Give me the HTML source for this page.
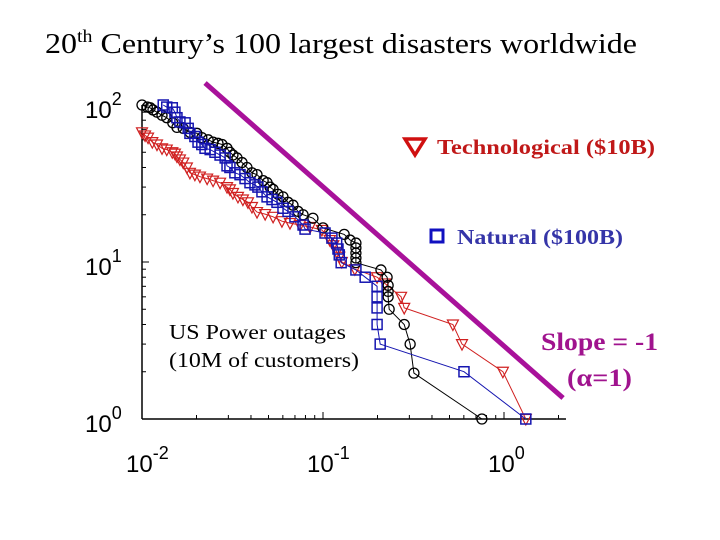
<!DOCTYPE html>
<html><head><meta charset="utf-8"><style>
html,body{margin:0;padding:0;background:#fff}
svg{display:block}
</style></head><body>
<svg id="chart" width="720" height="540" viewBox="0 0 720 540" xmlns="http://www.w3.org/2000/svg">
<text x="45" y="53" font-family="Liberation Serif, serif" font-size="29" fill="#000" textLength="592" lengthAdjust="spacingAndGlyphs">20<tspan font-size="18" dy="-11">th</tspan><tspan dy="11"> Century’s 100 largest disasters worldwide</tspan></text>
<g id="axes"></g>
<g id="marks"></g>
<g>
<polygon points="405,139 425,139 415,155" fill="none" stroke="#d01010" stroke-width="3.5"/>
<text x="437" y="154" font-family="Liberation Serif, serif" font-weight="bold" font-size="21" fill="#c01818" textLength="218" lengthAdjust="spacingAndGlyphs">Technological ($10B)</text>
</g>
<g>
<rect x="431" y="230" width="12" height="12" fill="none" stroke="#1010c0" stroke-width="3"/>
<text x="457" y="244" font-family="Liberation Serif, serif" font-weight="bold" font-size="21" fill="#3535a8" textLength="166" lengthAdjust="spacingAndGlyphs">Natural ($100B)</text>
</g>
<text font-family="Liberation Serif, serif" font-size="21" fill="#000"><tspan x="169" y="339" textLength="177" lengthAdjust="spacingAndGlyphs">US Power outages</tspan><tspan x="169" y="367" textLength="190" lengthAdjust="spacingAndGlyphs">(10M of customers)</tspan></text>
<text font-family="Liberation Serif, serif" font-weight="bold" font-size="25" fill="#a0138e"><tspan x="541" y="350" textLength="117" lengthAdjust="spacingAndGlyphs">Slope = -1</tspan><tspan x="567" y="386" textLength="65" lengthAdjust="spacingAndGlyphs">(α=1)</tspan></text>
</svg>
<script>
const blackX=[0.010,0.0107,0.0111,0.0115,0.0121,0.0129,0.0137,0.0148,0.0156,0.0169,0.0184,0.0201,0.0214,0.0232,0.0247,0.0263,0.0277,0.0295,0.0306,0.0318,0.0335,0.0357,0.0380,0.0405,0.0432,0.0467,0.0491,0.0510,0.0530,0.0564,0.0601,0.0641,0.0683,0.0728,0.0776,0.088,0.100,0.131,0.141,0.152,0.152,0.152,0.152,0.152,0.209,0.226,0.229,0.229,0.229,0.232,0.281,0.303,0.318,0.755];
const blackY=[100,97,96,93,90,86,83,77,72,71,67,66,62,60,58,57,56,53,50,48,46,43,40,37,36,33,32,30,29,27,26,24,23,21,20,19,16.5,15,13.8,13.2,12.3,11.4,10.6,9.9,8.9,8.0,7.1,6.5,6.0,5.0,4.0,3.0,1.96,1.0];
const blueX=[0.0131,0.0137,0.0147,0.0152,0.0156,0.0162,0.0173,0.0180,0.0184,0.0196,0.0204,0.0214,0.0223,0.0238,0.0253,0.0270,0.0288,0.0295,0.0306,0.0326,0.0348,0.0371,0.0395,0.0421,0.0437,0.0460,0.0491,0.0523,0.0557,0.0601,0.0641,0.070,0.0776,0.0796,0.1026,0.112,0.119,0.121,0.123,0.126,0.152,0.171,0.199,0.199,0.199,0.199,0.207,0.601,1.32];
const blueY=[100,97,96,90,83,78,77,71,66,63,58,56,53,52,50,48,46,41,40,37,36,34,32,31,30,28,26,25,24,22,21,19.4,17.2,16.2,15.3,14.2,13.2,12.1,11.1,9.9,8.9,8.0,7.0,6.0,5.1,4.0,3.0,2.0,1.0];
const redX=[0.0100,0.0104,0.0108,0.0114,0.0121,0.0129,0.0137,0.0147,0.0152,0.0156,0.0162,0.0169,0.0177,0.0184,0.0196,0.0209,0.0229,0.0247,0.0270,0.0295,0.0306,0.0318,0.0339,0.0361,0.0385,0.0405,0.0432,0.0479,0.0530,0.0593,0.0657,0.0746,0.0848,0.0986,0.109,0.114,0.119,0.123,0.127,0.150,0.199,0.220,0.270,0.281,0.522,0.586,0.986,1.32];
const redY=[67,64,62,58,56,53,52,50,49,47,45,43,40,37,36,35,34,33,32,30,29,27.5,26,25,24,22.4,20.8,20.2,19.4,18.2,17.7,17.2,16.7,16.0,13.8,12.8,11.6,10.8,10,9.0,8.0,7.3,6.0,5.1,4.0,3.0,2.0,1.0];
const slopeX=[0.0223,2.12];
const slopeY=[138,1.36];
const xTickExp=[-2,-1,0];
const yTickExp=[0,1,2];

const NS='http://www.w3.org/2000/svg';
const X0=142,XD=181,Y0=419,YD=157;
function sx(v){return X0+(Math.log10(v)+2)*XD;}
function sy(v){return Y0-Math.log10(v)*YD;}
function mk(tag,attrs,parent){const e=document.createElementNS(NS,tag);for(const k in attrs)e.setAttribute(k,attrs[k]);parent.appendChild(e);return e;}
const axes=document.getElementById('axes'),marks=document.getElementById('marks');

let e=mk('line',{x1:X0,y1:sy(100),x2:X0,y2:Y0,stroke:'#000','stroke-width':1.5},axes);


e=mk('line',{x1:X0,y1:Y0,x2:sx(2.2),y2:Y0,stroke:'#000','stroke-width':1.5},axes);


for(let d=-2;d<=0;d++){for(let m=1;m<=9;m++){const v=m*Math.pow(10,d);if(sx(v)>sx(2.2))continue;
 const t=mk('line',{x1:sx(v),y1:Y0,x2:sx(v),y2:Y0-(m===1?7:4),stroke:'#000','stroke-width':1},axes);
 
 }}
for(let d=0;d<=1;d++){for(let m=1;m<=10;m++){const v=m*Math.pow(10,d);
 const t=mk('line',{x1:X0,y1:sy(v),x2:X0+(m===1||m===10?7:4),y2:sy(v),stroke:'#000','stroke-width':1},axes);
 
 }}
xTickExp.forEach(p=>{const x=sx(Math.pow(10,p));
 const t=mk('text',{x:x-16,y:472,'font-family':'Liberation Sans, sans-serif','font-size':24,fill:'#000'},axes);
 
 
 t.textContent='10';const s=mk('tspan',{dy:-13,'font-size':18},t);s.textContent=String(p);});
yTickExp.forEach(p=>{const y=sy(Math.pow(10,p));
 const t=mk('text',{x:85,y:y+13,'font-family':'Liberation Sans, sans-serif','font-size':24,fill:'#000'},axes);
 
 
 t.textContent='10';const s=mk('tspan',{dy:-13,'font-size':18},t);s.textContent=String(p);});

e=mk('line',{x1:sx(slopeX[0]),y1:sy(slopeY[0]),x2:sx(slopeX[1]),y2:sy(slopeY[1]),stroke:'#a8119a','stroke-width':5},marks);



function series(xs,ys,color,name,shape){
 const pts=xs.map((v,i)=>sx(v).toFixed(1)+','+sy(ys[i]).toFixed(1)).join(' ');
 const l=mk('polyline',{points:pts,fill:'none',stroke:color,'stroke-width':1},marks);
 
 
 xs.forEach((v,i)=>{const x=sx(v),y=sy(ys[i]);let m;
  if(shape==='circle')m=mk('circle',{cx:x,cy:y,r:5,fill:'none',stroke:color,'stroke-width':1.3},marks);
  else if(shape==='square')m=mk('rect',{x:x-5,y:y-5,width:10,height:10,fill:'none',stroke:color,'stroke-width':1.5},marks);
  else m=mk('polygon',{points:(x-5.5)+','+(y-4.5)+' '+(x+5.5)+','+(y-4.5)+' '+x+','+(y+6),fill:'none',stroke:color,'stroke-width':1.2},marks);
  
  });
}
series(redX,redY,'#d02020','technological','tri');
series(blackX,blackY,'#000000','power-outages','circle');
series(blueX,blueY,'#1515b0','natural','square');
</script>
</body></html>
